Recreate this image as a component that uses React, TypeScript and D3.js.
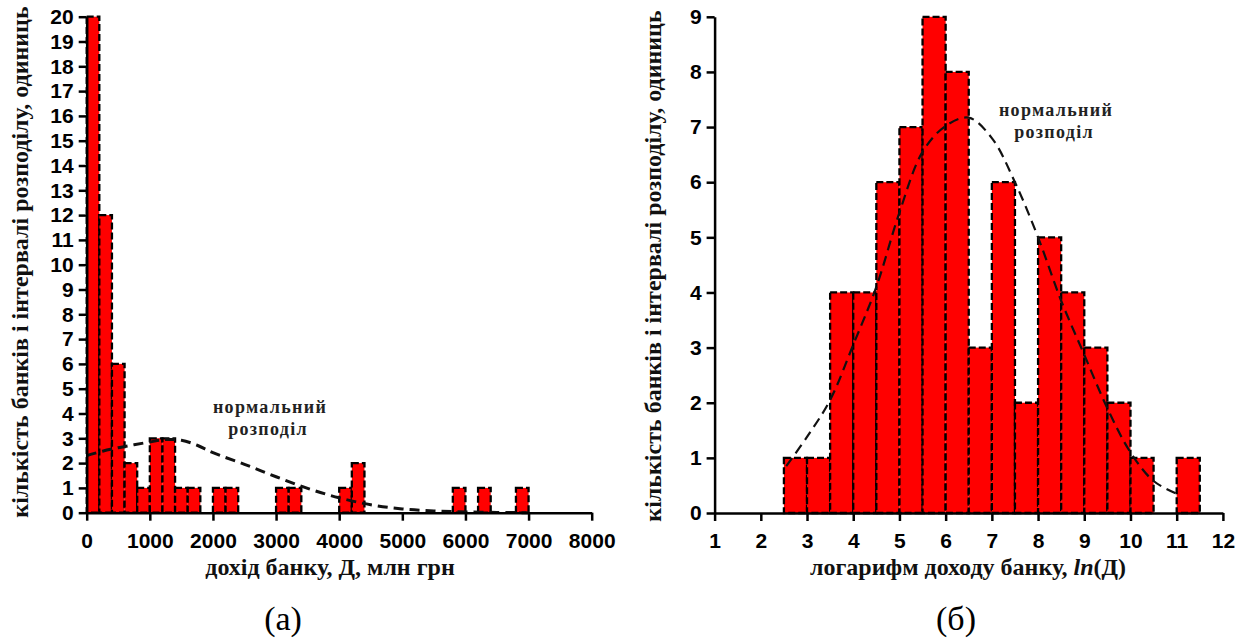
import { useEffect, useRef } from "react";
import * as d3 from "d3";

// (а) bank income, bins of 200 mln UAH
const incomeBinWidth = 200;
const incomeBinStarts = [0, 200, 400, 600, 800, 1000, 1200, 1400, 1600, 2000, 2200, 3000, 3200, 4000, 4200, 5800, 6200, 6800];
const incomeCounts = [20, 12, 6, 2, 1, 3, 3, 1, 1, 1, 1, 1, 1, 1, 2, 1, 1, 1];
const incomeNormalX = [0, 250, 500, 750, 1000, 1250, 1500, 1750, 2000, 2500, 3000, 3500, 4000, 4500, 5000, 5500, 6000, 6500, 7000];
const incomeNormalY = [2.3, 2.48, 2.62, 2.74, 2.85, 2.95, 2.92, 2.72, 2.42, 1.95, 1.45, 0.98, 0.6, 0.32, 0.15, 0.07, 0.03, 0.01, 0];
const incomeXTicks = [0, 1000, 2000, 3000, 4000, 5000, 6000, 7000, 8000];
const incomeYTicks = [0, 1, 2, 3, 4, 5, 6, 7, 8, 9, 10, 11, 12, 13, 14, 15, 16, 17, 18, 19, 20];

// (б) log of bank income, bins of 0.5
const logBinWidth = 0.5;
const logBinStarts = [2.5, 3, 3.5, 4, 4.5, 5, 5.5, 6, 6.5, 7, 7.5, 8, 8.5, 9, 9.5, 10, 10.5, 11];
const logCounts = [1, 1, 4, 4, 6, 7, 9, 8, 3, 6, 2, 5, 4, 3, 2, 1, 0, 1];
const logNormalX = [2.55, 3, 3.5, 4, 4.5, 5, 5.5, 6, 6.5, 7, 7.5, 8, 8.5, 9, 9.5, 10, 10.5, 11];
const logNormalY = [0.85, 1.38, 2.05, 3.05, 4.1, 5.45, 6.55, 7.02, 7.17, 6.8, 6.0, 5.0, 3.85, 2.87, 1.9, 1.1, 0.58, 0.35];
const logXTicks = [1, 2, 3, 4, 5, 6, 7, 8, 9, 10, 11, 12];
const logYTicks = [0, 1, 2, 3, 4, 5, 6, 7, 8, 9];

const yTitle = "кількість банків і інтервалі розподілу, одиниць";
const SANS = "'Liberation Sans', Arial, sans-serif";
const SERIF = "'Liberation Serif', 'Times New Roman', serif";

type Panel = {
  x: d3.ScaleLinear<number, number>;
  y: d3.ScaleLinear<number, number>;
  starts: number[];
  counts: number[];
  binWidth: number;
  curveX: number[];
  curveY: number[];
  curveWidth: number;
  xTicks: number[];
  yTicks: number[];
  yTitleX: number;
  yTitleY: number;
  noteX: number;
  noteY: number;
};

function drawPanel(svg: d3.Selection<SVGSVGElement, unknown, null, undefined>, p: Panel) {
  const g = svg.append("g");
  const [y0] = p.y.range();
  const [x0] = p.x.range();

  // bars
  const bars = p.starts.map((s, i) => ({ s, c: p.counts[i] })).filter((d) => d.c > 0);
  g.selectAll("rect.bar")
    .data(bars)
    .join("rect")
    .attr("class", "bar")
    .attr("x", (d) => p.x(d.s))
    .attr("y", (d) => p.y(d.c))
    .attr("width", (d) => p.x(d.s + p.binWidth) - p.x(d.s))
    .attr("height", (d) => y0 - p.y(d.c))
    .attr("fill", "#ff0000")
    .attr("stroke", "#000")
    .attr("stroke-width", 2.3)
    .attr("stroke-dasharray", "7,3");

  // normal curve
  const pts = p.curveX.map((v, i) => [v, p.curveY[i]] as [number, number]);
  const line = d3.line<[number, number]>()
    .x((d) => p.x(d[0]))
    .y((d) => p.y(d[1]))
    .curve(d3.curveCatmullRom);
  g.append("path")
    .datum(pts)
    .attr("d", line)
    .attr("fill", "none")
    .attr("stroke", "#111")
    .attr("stroke-width", p.curveWidth)
    .attr("stroke-dasharray", "10,6");

  // axes
  const xa = g.append("g")
    .attr("transform", `translate(0,${y0})`)
    .call(d3.axisBottom(p.x).tickValues(p.xTicks).tickSize(8).tickSizeOuter(0).tickPadding(12).tickFormat(d3.format("d")));
  const ya = g.append("g")
    .attr("transform", `translate(${x0},0)`)
    .call(d3.axisLeft(p.y).tickValues(p.yTicks).tickSize(8).tickSizeOuter(0).tickPadding(5).tickFormat(d3.format("d")));
  [xa, ya].forEach((a) => {
    a.selectAll("path, line").attr("stroke", "#000").attr("stroke-width", 2.5);
    a.selectAll("text")
      .attr("fill", "#000")
      .attr("font-family", SANS)
      .attr("font-weight", "bold")
      .attr("font-size", 21);
  });

  // y title
  g.append("text")
    .attr("transform", `translate(${p.yTitleX},${p.yTitleY}) rotate(-90)`)
    .attr("text-anchor", "middle")
    .attr("font-family", SERIF)
    .attr("font-weight", "bold")
    .attr("font-size", 24)
    .attr("fill", "#111")
    .text(yTitle);

  // curve note
  const note = g.append("text")
    .attr("text-anchor", "middle")
    .attr("font-family", SERIF)
    .attr("font-weight", "bold")
    .attr("font-size", 18)
    .attr("letter-spacing", 1.3)
    .attr("fill", "#222");
  note.append("tspan").attr("x", p.noteX).attr("y", p.noteY).text("нормальний");
  note.append("tspan").attr("x", p.noteX - 2).attr("y", p.noteY + 22).text("розподіл");

  return g;
}

export default function App() {
  const svgRef = useRef<SVGSVGElement>(null);

  useEffect(() => {
    if (!svgRef.current) return;
    const svg = d3.select(svgRef.current);
    svg.selectAll("*").remove();

    const xA = d3.scaleLinear().domain([0, 8000]).range([86.7, 591.7]);
    const yA = d3.scaleLinear().domain([0, 20]).range([512.7, 16.7]);
    const gA = drawPanel(svg, {
      x: xA, y: yA,
      starts: incomeBinStarts, counts: incomeCounts, binWidth: incomeBinWidth,
      curveX: incomeNormalX, curveY: incomeNormalY, curveWidth: 3,
      xTicks: incomeXTicks, yTicks: incomeYTicks,
      yTitleX: 28, yTitleY: 262, noteX: 270, noteY: 413,
    });
    gA.append("text")
      .attr("x", 330).attr("y", 575)
      .attr("text-anchor", "middle")
      .attr("font-family", SERIF).attr("font-weight", "bold").attr("font-size", 24)
      .attr("fill", "#111")
      .text("дохід банку, Д, млн грн");
    gA.append("text")
      .attr("x", 283).attr("y", 630)
      .attr("text-anchor", "middle")
      .attr("font-family", SERIF).attr("font-size", 34)
      .attr("fill", "#000")
      .text("(а)");

    const xB = d3.scaleLinear().domain([1, 12]).range([714.6, 1222.9]);
    const yB = d3.scaleLinear().domain([0, 9]).range([513, 16.8]);
    const gB = drawPanel(svg, {
      x: xB, y: yB,
      starts: logBinStarts, counts: logCounts, binWidth: logBinWidth,
      curveX: logNormalX, curveY: logNormalY, curveWidth: 2.2,
      xTicks: logXTicks, yTicks: logYTicks,
      yTitleX: 661, yTitleY: 266, noteX: 1056, noteY: 116,
    });
    const t = gB.append("text")
      .attr("x", 968).attr("y", 575)
      .attr("text-anchor", "middle")
      .attr("font-family", SERIF).attr("font-weight", "bold").attr("font-size", 24)
      .attr("fill", "#111");
    t.append("tspan").text("логарифм доходу банку, ");
    t.append("tspan").attr("font-style", "italic").text("ln");
    t.append("tspan").text("(Д)");
    gB.append("text")
      .attr("x", 956).attr("y", 630)
      .attr("text-anchor", "middle")
      .attr("font-family", SERIF).attr("font-size", 34)
      .attr("fill", "#000")
      .text("(б)");
  }, []);

  return (
    <svg
      ref={svgRef}
      width={1245}
      height={643}
      style={{ position: "absolute", left: 0, top: 0, background: "#fff" }}
    />
  );
}
